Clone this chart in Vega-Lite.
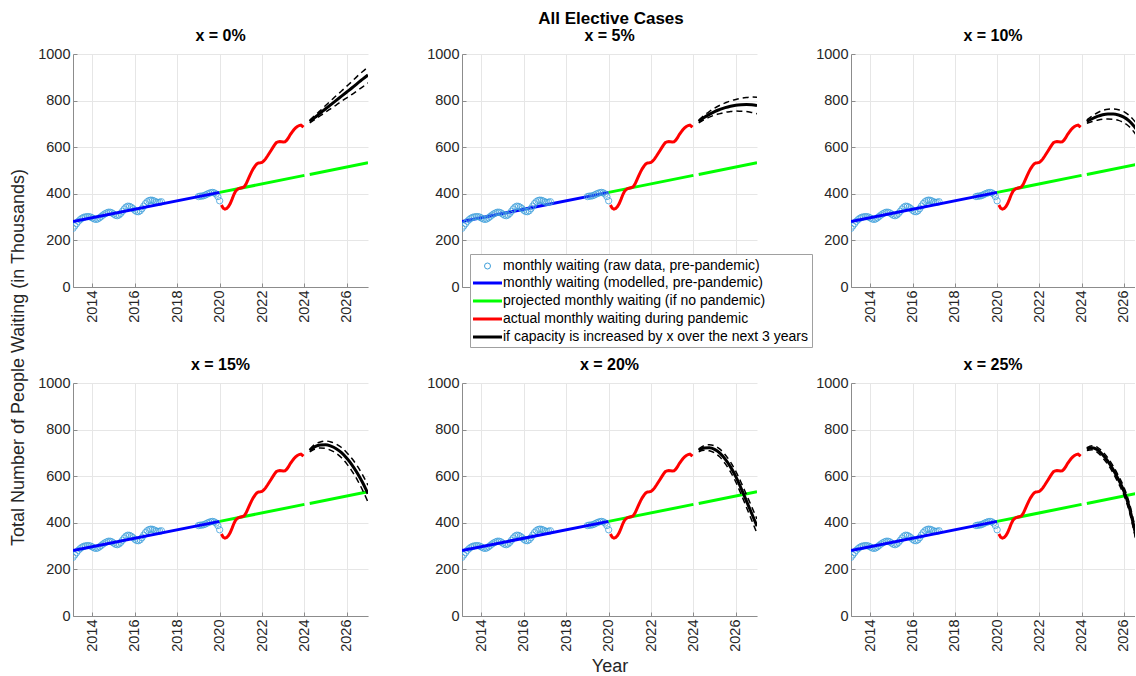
{
"$schema": "https://vega.github.io/schema/vega-lite/v6.json",
"padding": {"left": 9, "top": 10, "right": 0, "bottom": 0},
"background": "white",
"title": {"text": "All Elective Cases", "fontSize": 17, "fontWeight": "bold", "color": "#000000", "anchor": "middle", "frame": "bounds", "offset": 0, "dx": 39},
"datasets": {
"raw": [
{"t":2013.083,"v":252},{"t":2013.167,"v":262},{"t":2013.25,"v":272},{"t":2013.333,"v":282},{"t":2013.417,"v":289},{"t":2013.5,"v":295},{"t":2013.583,"v":299},{"t":2013.667,"v":301},{"t":2013.75,"v":302},{"t":2013.833,"v":302},{"t":2013.917,"v":300},
{"t":2014.0,"v":296},{"t":2014.083,"v":292},{"t":2014.167,"v":290},{"t":2014.25,"v":292},{"t":2014.333,"v":297},{"t":2014.417,"v":303},{"t":2014.5,"v":309},{"t":2014.583,"v":314},{"t":2014.667,"v":318},{"t":2014.75,"v":321},{"t":2014.833,"v":321},{"t":2014.917,"v":318},
{"t":2015.0,"v":313},{"t":2015.083,"v":308},{"t":2015.167,"v":306},{"t":2015.25,"v":309},{"t":2015.333,"v":316},{"t":2015.417,"v":325},{"t":2015.5,"v":335},{"t":2015.583,"v":343},{"t":2015.667,"v":347},{"t":2015.75,"v":346},{"t":2015.833,"v":342},{"t":2015.917,"v":336},
{"t":2016.0,"v":329},{"t":2016.083,"v":324},{"t":2016.167,"v":323},{"t":2016.25,"v":327},{"t":2016.333,"v":336},{"t":2016.417,"v":347},{"t":2016.5,"v":358},{"t":2016.583,"v":366},{"t":2016.667,"v":371},{"t":2016.75,"v":373},{"t":2016.833,"v":372},{"t":2016.917,"v":369},
{"t":2017.0,"v":365},{"t":2017.083,"v":363},{"t":2017.167,"v":364},{"t":2017.25,"v":366},
{"t":2019.0,"v":388},{"t":2019.083,"v":390},{"t":2019.167,"v":390},{"t":2019.25,"v":392},{"t":2019.333,"v":395},{"t":2019.417,"v":399},{"t":2019.5,"v":402},{"t":2019.583,"v":405},{"t":2019.667,"v":406},{"t":2019.75,"v":404},{"t":2019.833,"v":399},{"t":2019.917,"v":388},{"t":2020.0,"v":370}
],
"model": [{"t":2013.083,"v":281},{"t":2020.0,"v":406}],
"proj": [{"t":2020.0,"v":406,"seg":"a"},{"t":2024.0,"v":479,"seg":"a"},{"t":2024.25,"v":483,"seg":"b"},{"t":2027.0,"v":533,"seg":"b"}],
"actual": [
{"t":2020.083,"v":352},{"t":2020.167,"v":338},{"t":2020.25,"v":334},{"t":2020.333,"v":337},{"t":2020.417,"v":345},{"t":2020.5,"v":358},{"t":2020.583,"v":376},{"t":2020.667,"v":396},{"t":2020.75,"v":411},{"t":2020.833,"v":419},{"t":2020.917,"v":423},
{"t":2021.0,"v":425},{"t":2021.083,"v":427},{"t":2021.167,"v":431},{"t":2021.25,"v":443},{"t":2021.333,"v":460},{"t":2021.417,"v":477},{"t":2021.5,"v":493},{"t":2021.583,"v":507},{"t":2021.667,"v":519},{"t":2021.75,"v":528},{"t":2021.833,"v":532},{"t":2021.917,"v":533},
{"t":2022.0,"v":535},{"t":2022.083,"v":541},{"t":2022.167,"v":550},{"t":2022.25,"v":561},{"t":2022.333,"v":573},{"t":2022.417,"v":585},{"t":2022.5,"v":597},{"t":2022.583,"v":609},{"t":2022.667,"v":619},{"t":2022.75,"v":623},{"t":2022.833,"v":624},{"t":2022.917,"v":623},
{"t":2023.0,"v":622},{"t":2023.083,"v":623},{"t":2023.167,"v":630},{"t":2023.25,"v":641},{"t":2023.333,"v":654},{"t":2023.417,"v":665},{"t":2023.5,"v":675},{"t":2023.583,"v":683},{"t":2023.667,"v":689},{"t":2023.75,"v":693},{"t":2023.833,"v":695},{"t":2023.917,"v":689},{"t":2023.958,"v":686}
],
"scen": [
{"p":0,"t":2024.25,"m":710,"lo":704,"hi":716},{"p":0,"t":2024.5,"m":728,"lo":719,"hi":737},{"p":0,"t":2024.75,"m":746,"lo":735,"hi":757},{"p":0,"t":2025,"m":765,"lo":751,"hi":779},{"p":0,"t":2025.25,"m":783,"lo":766,"hi":800},{"p":0,"t":2025.5,"m":801,"lo":781,"hi":821},{"p":0,"t":2025.75,"m":819,"lo":797,"hi":841},{"p":0,"t":2026,"m":837,"lo":812,"hi":862},{"p":0,"t":2026.25,"m":855,"lo":827,"hi":883},{"p":0,"t":2026.5,"m":874,"lo":843,"hi":905},{"p":0,"t":2026.75,"m":892,"lo":859,"hi":925},{"p":0,"t":2027,"m":910,"lo":876,"hi":944},
{"p":1,"t":2024.25,"m":710,"lo":704,"hi":716},{"p":1,"t":2024.5,"m":727,"lo":718,"hi":736},{"p":1,"t":2024.75,"m":741,"lo":729,"hi":753},{"p":1,"t":2025,"m":753,"lo":738,"hi":768},{"p":1,"t":2025.25,"m":762,"lo":744,"hi":780},{"p":1,"t":2025.5,"m":770,"lo":750,"hi":790},{"p":1,"t":2025.75,"m":776,"lo":753,"hi":799},{"p":1,"t":2026,"m":780,"lo":755,"hi":805},{"p":1,"t":2026.25,"m":782,"lo":754,"hi":810},{"p":1,"t":2026.5,"m":783,"lo":753,"hi":813},{"p":1,"t":2026.75,"m":782,"lo":749,"hi":815},{"p":1,"t":2027,"m":779,"lo":744,"hi":814},
{"p":2,"t":2024.25,"m":710,"lo":703,"hi":717},{"p":2,"t":2024.5,"m":722,"lo":710,"hi":734},{"p":2,"t":2024.75,"m":732,"lo":716,"hi":748},{"p":2,"t":2025,"m":739,"lo":720,"hi":758},{"p":2,"t":2025.25,"m":742,"lo":721,"hi":763},{"p":2,"t":2025.5,"m":742,"lo":720,"hi":764},{"p":2,"t":2025.75,"m":738,"lo":715,"hi":761},{"p":2,"t":2026,"m":729,"lo":705,"hi":753},{"p":2,"t":2026.25,"m":713,"lo":689,"hi":737},{"p":2,"t":2026.5,"m":688,"lo":663,"hi":713},{"p":2,"t":2026.75,"m":655,"lo":629,"hi":681},{"p":2,"t":2027,"m":615,"lo":588,"hi":642},
{"p":3,"t":2024.25,"m":710,"lo":704,"hi":716},{"p":3,"t":2024.5,"m":727,"lo":717,"hi":737},{"p":3,"t":2024.75,"m":734,"lo":721,"hi":747},{"p":3,"t":2025,"m":735,"lo":719,"hi":751},{"p":3,"t":2025.25,"m":729,"lo":711,"hi":747},{"p":3,"t":2025.5,"m":718,"lo":698,"hi":738},{"p":3,"t":2025.75,"m":701,"lo":679,"hi":723},{"p":3,"t":2026,"m":677,"lo":653,"hi":701},{"p":3,"t":2026.25,"m":648,"lo":621,"hi":675},{"p":3,"t":2026.5,"m":613,"lo":583,"hi":643},{"p":3,"t":2026.75,"m":572,"lo":539,"hi":605},{"p":3,"t":2027,"m":525,"lo":489,"hi":561},
{"p":4,"t":2024.25,"m":711,"lo":705,"hi":717},{"p":4,"t":2024.5,"m":721,"lo":711,"hi":731},{"p":4,"t":2024.75,"m":722,"lo":709,"hi":735},{"p":4,"t":2025,"m":715,"lo":700,"hi":730},{"p":4,"t":2025.25,"m":699,"lo":682,"hi":716},{"p":4,"t":2025.5,"m":673,"lo":654,"hi":692},{"p":4,"t":2025.75,"m":640,"lo":619,"hi":661},{"p":4,"t":2026,"m":598,"lo":575,"hi":621},{"p":4,"t":2026.25,"m":548,"lo":523,"hi":573},{"p":4,"t":2026.5,"m":494,"lo":467,"hi":521},{"p":4,"t":2026.75,"m":440,"lo":411,"hi":469},{"p":4,"t":2027,"m":385,"lo":354,"hi":416},
{"p":5,"t":2024.25,"m":716,"lo":710,"hi":722},{"p":5,"t":2024.5,"m":722,"lo":713,"hi":731},{"p":5,"t":2024.75,"m":713,"lo":702,"hi":724},{"p":5,"t":2025,"m":692,"lo":679,"hi":705},{"p":5,"t":2025.25,"m":664,"lo":650,"hi":678},{"p":5,"t":2025.5,"m":628,"lo":613,"hi":643},{"p":5,"t":2025.75,"m":585,"lo":569,"hi":601},{"p":5,"t":2026,"m":537,"lo":520,"hi":554},{"p":5,"t":2026.25,"m":470,"lo":452,"hi":488},{"p":5,"t":2026.5,"m":375,"lo":356,"hi":394},{"p":5,"t":2026.75,"m":270,"lo":250,"hi":290},{"p":5,"t":2027,"m":160,"lo":139,"hi":181}
]
},
"columns": 3,
"bounds": "flush",
"spacing": {"row": 96, "column": 94},
"resolve": {"scale": {"color": "independent", "shape": "independent"}, "legend": {"color": "independent", "shape": "independent"}},
"concat": [
{
"width": 295, "height": 233,
"title": {"text": "x = 0%", "fontSize": 16, "offset": 2},
"encoding": {
"x": {"field": "t", "type": "quantitative", "scale": {"domain": [2013.08, 2027], "nice": false, "zero": false}, "axis": {"values": [2014,2016,2018,2020,2022,2024,2026], "format": "d", "labelAngle": -90, "title": null, "labelOverlap": false}},
"y": {"field": "v", "type": "quantitative", "scale": {"domain": [0, 1000], "nice": false, "zero": false}, "axis": {"values": [0,200,400,600,800,1000], "format": "d", "title": "Total Number of People Waiting (in Thousands)", "titleX": -50, "titleY": 303, "titleAngle": -90, "titleAlign": "center", "titleBaseline": "alphabetic"}}
},
"layer": [
{"data": {"name": "raw"}, "mark": {"type": "point", "filled": false, "size": 40, "strokeWidth": 0.8, "color": "#3f9fda", "opacity": 1, "clip": true}},
{"data": {"name": "model"}, "mark": {"type": "line", "color": "#0000ff", "strokeWidth": 3, "clip": true}},
{"data": {"name": "proj"}, "mark": {"type": "line", "color": "#00ff00", "strokeWidth": 3, "clip": true}, "encoding": {"detail": {"field": "seg"}}},
{"data": {"name": "actual"}, "mark": {"type": "line", "color": "#ff0000", "strokeWidth": 3, "clip": true}},
{"data": {"name": "scen"}, "transform": [{"filter": "datum.p == 0"}, {"fold": ["lo","hi"], "as": ["b","v"]}], "mark": {"type": "line", "color": "#000000", "strokeWidth": 1.5, "strokeDash": [6,4], "interpolate": "monotone", "clip": true}, "encoding": {"detail": {"field": "b"}}},
{"data": {"name": "scen"}, "transform": [{"filter": "datum.p == 0"}, {"fold": ["m"], "as": ["b","v"]}], "mark": {"type": "line", "color": "#000000", "strokeWidth": 3, "interpolate": "monotone", "clip": true}}
]
},
{
"width": 295, "height": 233,
"title": {"text": "x = 5%", "fontSize": 16, "offset": 2},
"encoding": {
"x": {"field": "t", "type": "quantitative", "scale": {"domain": [2013.08, 2027], "nice": false, "zero": false}, "axis": {"values": [2014,2016,2018,2020,2022,2024,2026], "format": "d", "labelAngle": -90, "title": null, "labelOverlap": false}},
"y": {"field": "v", "type": "quantitative", "scale": {"domain": [0, 1000], "nice": false, "zero": false}, "axis": {"values": [0,200,400,600,800,1000], "format": "d", "title": null}}
},
"layer": [
{"data": {"name": "model"}, "mark": {"type": "line", "strokeWidth": 3, "clip": true}, "encoding": {"color": {"datum": "monthly waiting (modelled, pre-pandemic)", "type": "nominal",
  "scale": {"domain": ["monthly waiting (modelled, pre-pandemic)", "projected monthly waiting (if no pandemic)", "actual monthly waiting during pandemic", "if capacity is increased by x over the next 3 years"], "range": ["#0000ff", "#00ff00", "#ff0000", "#000000"]},
  "legend": {"title": " ", "titleFontSize": 14, "titlePadding": 5, "orient": "none", "legendX": 8, "legendY": 200, "fillColor": "white", "strokeColor": "#a0a0a0", "padding": 3, "labelFont": "Liberation Sans", "labelFontSize": 14, "labelColor": "#000000", "labelLimit": 400, "symbolType": "M-2.9,0H2.9", "symbolSize": 100, "symbolStrokeWidth": 3, "symbolOffset": 7.5, "labelOffset": 8.5, "rowPadding": 4, "cornerRadius": 0}}}},
{"data": {"name": "raw"}, "mark": {"type": "point", "filled": false, "size": 40, "strokeWidth": 0.8, "color": "#3f9fda", "opacity": 1, "clip": true},
 "encoding": {"shape": {"datum": "monthly waiting (raw data, pre-pandemic)", "type": "nominal", "scale": {"range": ["circle"]},
  "legend": {"title": null, "orient": "none", "legendX": 18.5, "legendY": 205, "padding": 0, "labelFont": "Liberation Sans", "labelFontSize": 14, "labelColor": "#000000", "labelLimit": 400, "symbolType": "circle", "symbolSize": 36, "symbolStrokeWidth": 1, "symbolStrokeColor": "#3f9fda", "symbolFillColor": "transparent", "symbolOffset": 0, "labelOffset": 8.5}}}},
{"data": {"name": "proj"}, "mark": {"type": "line", "strokeWidth": 3, "clip": true}, "encoding": {"detail": {"field": "seg"}, "color": {"datum": "projected monthly waiting (if no pandemic)", "type": "nominal"}}},
{"data": {"name": "actual"}, "mark": {"type": "line", "strokeWidth": 3, "clip": true}, "encoding": {"color": {"datum": "actual monthly waiting during pandemic", "type": "nominal"}}},
{"data": {"name": "scen"}, "transform": [{"filter": "datum.p == 1"}, {"fold": ["lo","hi"], "as": ["b","v"]}], "mark": {"type": "line", "color": "#000000", "strokeWidth": 1.5, "strokeDash": [6,4], "interpolate": "monotone", "clip": true}, "encoding": {"detail": {"field": "b"}}},
{"data": {"name": "scen"}, "transform": [{"filter": "datum.p == 1"}, {"fold": ["m"], "as": ["b","v"]}], "mark": {"type": "line", "strokeWidth": 3, "interpolate": "monotone", "clip": true}, "encoding": {"color": {"datum": "if capacity is increased by x over the next 3 years", "type": "nominal"}}}
]
},
{
"width": 284, "height": 233,
"title": {"text": "x = 10%", "fontSize": 16, "offset": 2},
"encoding": {
"x": {"field": "t", "type": "quantitative", "scale": {"domain": [2013.08, 2026.53], "nice": false, "zero": false}, "axis": {"values": [2014,2016,2018,2020,2022,2024,2026], "format": "d", "labelAngle": -90, "title": null, "labelOverlap": false}},
"y": {"field": "v", "type": "quantitative", "scale": {"domain": [0, 1000], "nice": false, "zero": false}, "axis": {"values": [0,200,400,600,800,1000], "format": "d", "title": null}}
},
"layer": [
{"data": {"name": "raw"}, "mark": {"type": "point", "filled": false, "size": 40, "strokeWidth": 0.8, "color": "#3f9fda", "opacity": 1, "clip": true}},
{"data": {"name": "model"}, "mark": {"type": "line", "color": "#0000ff", "strokeWidth": 3, "clip": true}},
{"data": {"name": "proj"}, "mark": {"type": "line", "color": "#00ff00", "strokeWidth": 3, "clip": true}, "encoding": {"detail": {"field": "seg"}}},
{"data": {"name": "actual"}, "mark": {"type": "line", "color": "#ff0000", "strokeWidth": 3, "clip": true}},
{"data": {"name": "scen"}, "transform": [{"filter": "datum.p == 2"}, {"fold": ["lo","hi"], "as": ["b","v"]}], "mark": {"type": "line", "color": "#000000", "strokeWidth": 1.5, "strokeDash": [6,4], "interpolate": "monotone", "clip": true}, "encoding": {"detail": {"field": "b"}}},
{"data": {"name": "scen"}, "transform": [{"filter": "datum.p == 2"}, {"fold": ["m"], "as": ["b","v"]}], "mark": {"type": "line", "color": "#000000", "strokeWidth": 3, "interpolate": "monotone", "clip": true}}
]
},
{
"width": 295, "height": 233,
"title": {"text": "x = 15%", "fontSize": 16, "offset": 2},
"encoding": {
"x": {"field": "t", "type": "quantitative", "scale": {"domain": [2013.08, 2027], "nice": false, "zero": false}, "axis": {"values": [2014,2016,2018,2020,2022,2024,2026], "format": "d", "labelAngle": -90, "title": null, "labelOverlap": false}},
"y": {"field": "v", "type": "quantitative", "scale": {"domain": [0, 1000], "nice": false, "zero": false}, "axis": {"values": [0,200,400,600,800,1000], "format": "d", "title": null}}
},
"layer": [
{"data": {"name": "raw"}, "mark": {"type": "point", "filled": false, "size": 40, "strokeWidth": 0.8, "color": "#3f9fda", "opacity": 1, "clip": true}},
{"data": {"name": "model"}, "mark": {"type": "line", "color": "#0000ff", "strokeWidth": 3, "clip": true}},
{"data": {"name": "proj"}, "mark": {"type": "line", "color": "#00ff00", "strokeWidth": 3, "clip": true}, "encoding": {"detail": {"field": "seg"}}},
{"data": {"name": "actual"}, "mark": {"type": "line", "color": "#ff0000", "strokeWidth": 3, "clip": true}},
{"data": {"name": "scen"}, "transform": [{"filter": "datum.p == 3"}, {"fold": ["lo","hi"], "as": ["b","v"]}], "mark": {"type": "line", "color": "#000000", "strokeWidth": 1.5, "strokeDash": [6,4], "interpolate": "monotone", "clip": true}, "encoding": {"detail": {"field": "b"}}},
{"data": {"name": "scen"}, "transform": [{"filter": "datum.p == 3"}, {"fold": ["m"], "as": ["b","v"]}], "mark": {"type": "line", "color": "#000000", "strokeWidth": 3, "interpolate": "monotone", "clip": true}}
]
},
{
"width": 295, "height": 233,
"title": {"text": "x = 20%", "fontSize": 16, "offset": 2},
"encoding": {
"x": {"field": "t", "type": "quantitative", "scale": {"domain": [2013.08, 2027], "nice": false, "zero": false}, "axis": {"values": [2014,2016,2018,2020,2022,2024,2026], "format": "d", "labelAngle": -90, "title": "Year", "titlePadding": 6, "labelOverlap": false}},
"y": {"field": "v", "type": "quantitative", "scale": {"domain": [0, 1000], "nice": false, "zero": false}, "axis": {"values": [0,200,400,600,800,1000], "format": "d", "title": null}}
},
"layer": [
{"data": {"name": "raw"}, "mark": {"type": "point", "filled": false, "size": 40, "strokeWidth": 0.8, "color": "#3f9fda", "opacity": 1, "clip": true}},
{"data": {"name": "model"}, "mark": {"type": "line", "color": "#0000ff", "strokeWidth": 3, "clip": true}},
{"data": {"name": "proj"}, "mark": {"type": "line", "color": "#00ff00", "strokeWidth": 3, "clip": true}, "encoding": {"detail": {"field": "seg"}}},
{"data": {"name": "actual"}, "mark": {"type": "line", "color": "#ff0000", "strokeWidth": 3, "clip": true}},
{"data": {"name": "scen"}, "transform": [{"filter": "datum.p == 4"}, {"fold": ["lo","hi"], "as": ["b","v"]}], "mark": {"type": "line", "color": "#000000", "strokeWidth": 1.5, "strokeDash": [6,4], "interpolate": "monotone", "clip": true}, "encoding": {"detail": {"field": "b"}}},
{"data": {"name": "scen"}, "transform": [{"filter": "datum.p == 4"}, {"fold": ["m"], "as": ["b","v"]}], "mark": {"type": "line", "color": "#000000", "strokeWidth": 3, "interpolate": "monotone", "clip": true}}
]
},
{
"width": 284, "height": 233,
"title": {"text": "x = 25%", "fontSize": 16, "offset": 2},
"encoding": {
"x": {"field": "t", "type": "quantitative", "scale": {"domain": [2013.08, 2026.53], "nice": false, "zero": false}, "axis": {"values": [2014,2016,2018,2020,2022,2024,2026], "format": "d", "labelAngle": -90, "title": null, "labelOverlap": false}},
"y": {"field": "v", "type": "quantitative", "scale": {"domain": [0, 1000], "nice": false, "zero": false}, "axis": {"values": [0,200,400,600,800,1000], "format": "d", "title": null}}
},
"layer": [
{"data": {"name": "raw"}, "mark": {"type": "point", "filled": false, "size": 40, "strokeWidth": 0.8, "color": "#3f9fda", "opacity": 1, "clip": true}},
{"data": {"name": "model"}, "mark": {"type": "line", "color": "#0000ff", "strokeWidth": 3, "clip": true}},
{"data": {"name": "proj"}, "mark": {"type": "line", "color": "#00ff00", "strokeWidth": 3, "clip": true}, "encoding": {"detail": {"field": "seg"}}},
{"data": {"name": "actual"}, "mark": {"type": "line", "color": "#ff0000", "strokeWidth": 3, "clip": true}},
{"data": {"name": "scen"}, "transform": [{"filter": "datum.p == 5"}, {"fold": ["lo","hi"], "as": ["b","v"]}], "mark": {"type": "line", "color": "#000000", "strokeWidth": 1.5, "strokeDash": [6,4], "interpolate": "monotone", "clip": true}, "encoding": {"detail": {"field": "b"}}},
{"data": {"name": "scen"}, "transform": [{"filter": "datum.p == 5"}, {"fold": ["m"], "as": ["b","v"]}], "mark": {"type": "line", "color": "#000000", "strokeWidth": 3, "interpolate": "monotone", "clip": true}}
]
}
],
"config": {
"view": {"stroke": null},
"font": "Liberation Sans",
"title": {"font": "Liberation Sans", "fontWeight": "bold", "color": "#000000"},
"axis": {"labelFont": "Liberation Sans", "labelFontSize": 14.5, "labelColor": "#262626", "domainColor": "#8c8c8c", "tickColor": "#8c8c8c", "tickSize": -4, "labelPadding": 7, "gridColor": "#e6e6e6", "titleFont": "Liberation Sans", "titleFontSize": 18, "titleFontWeight": "normal", "titleColor": "#262626"}
}
}
